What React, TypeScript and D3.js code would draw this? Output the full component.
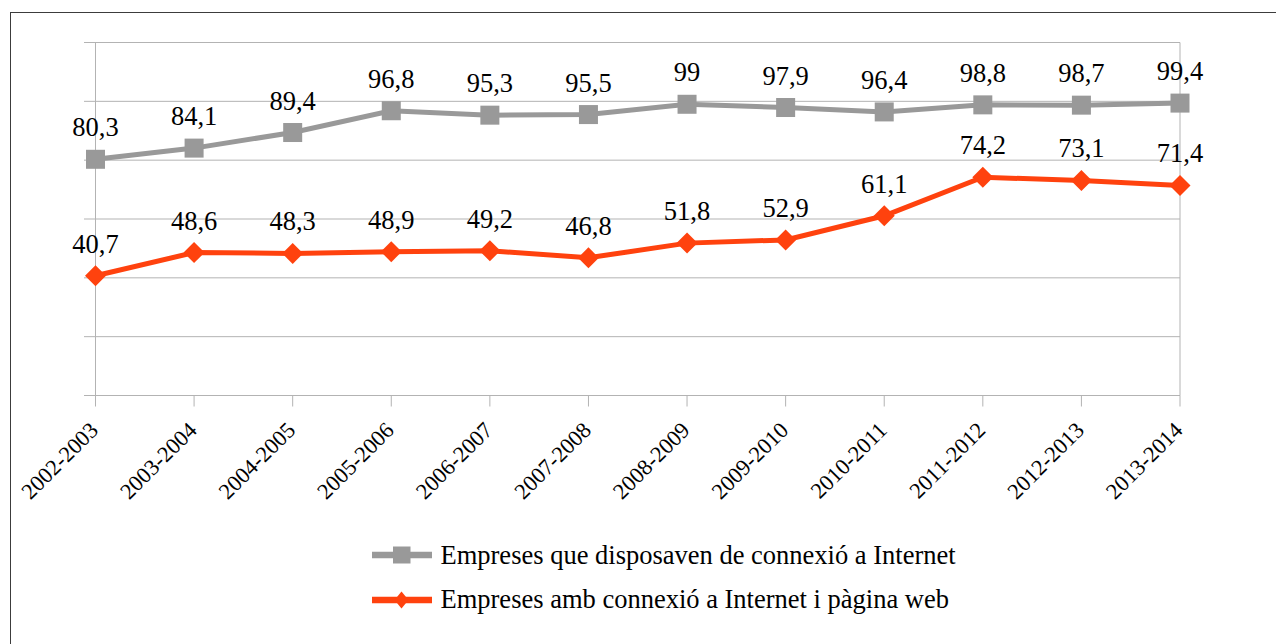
import React from "react";
import * as d3 from "d3";

const categories = ["2002-2003","2003-2004","2004-2005","2005-2006","2006-2007","2007-2008","2008-2009","2009-2010","2010-2011","2011-2012","2012-2013","2013-2014"];
const seriesInternet = [80.3, 84.1, 89.4, 96.8, 95.3, 95.5, 99, 97.9, 96.4, 98.8, 98.7, 99.4];
const seriesWeb = [40.7, 48.6, 48.3, 48.9, 49.2, 46.8, 51.8, 52.9, 61.1, 74.2, 73.1, 71.4];
const yTicks = [0, 20, 40, 60, 80, 100, 120];
const legendLabels = ["Empreses que disposaven de connexió a Internet", "Empreses amb connexió a Internet i pàgina web"];

const W = 1276, H = 644;
const GRAY = "#999999", ORANGE = "#ff420e", GRID = "#b3b3b3";
const TS = { fontFamily: "Liberation Serif" };

export default function App() {
  const x = d3.scalePoint<string>().domain(categories).range([95.5, 1180]);
  const y = d3.scaleLinear().domain([0, 120]).range([395.5, 42.5]);
  const line = d3.line<number>().x((_, i) => x(categories[i])!).y(d => y(d));
  const fmt = (v: number) => String(v).replace(".", ",");
  const diamond = (cx: number, cy: number, rx: number, ry: number) => `M${cx},${cy - ry}L${cx + rx},${cy}L${cx},${cy + ry}L${cx - rx},${cy}Z`;

  return (
    <svg width={W} height={H} style={{ position: "absolute", left: 0, top: 0, background: "#fff" }}>
      <rect x={10.5} y={12.5} width={1400} height={800} fill="#fff" stroke="#3c3c3c" strokeWidth={1} />
      {yTicks.map(t => (
        <line key={t} x1={84} x2={1180} y1={y(t)} y2={y(t)} stroke={GRID} strokeWidth={1} />
      ))}
      <line x1={95.5} x2={95.5} y1={y(120)} y2={y(0)} stroke={GRID} />
      <line x1={1180} x2={1180} y1={y(120)} y2={y(0)} stroke={GRID} />
      {categories.map(c => (
        <line key={c} x1={x(c)} x2={x(c)} y1={y(0)} y2={y(0) + 11} stroke={GRID} />
      ))}
      {categories.map(c => (
        <text key={c} style={TS} transform={`translate(${x(c)! + 4},${y(0) + 36}) rotate(-45)`} textAnchor="end" fontSize={22.5} fill="#000">{c}</text>
      ))}
      <path d={line(seriesInternet)!} fill="none" stroke={GRAY} strokeWidth={5} />
      {seriesInternet.map((v, i) => (
        <rect key={i} x={x(categories[i])! - 9.5} y={y(v) - 9.5} width={19} height={19} fill={GRAY} />
      ))}
      <path d={line(seriesWeb)!} fill="none" stroke={ORANGE} strokeWidth={5} />
      {seriesWeb.map((v, i) => (
        <path key={i} d={diamond(x(categories[i])!, y(v), 10.5, 10.5)} fill={ORANGE} />
      ))}
      {seriesInternet.map((v, i) => (
        <text key={i} style={TS} x={x(categories[i])} y={y(v) - 23} textAnchor="middle" fontSize={26.5} fill="#000">{fmt(v)}</text>
      ))}
      {seriesWeb.map((v, i) => (
        <text key={i} style={TS} x={x(categories[i])} y={y(v) - 23} textAnchor="middle" fontSize={26.5} fill="#000">{fmt(v)}</text>
      ))}
      <g>
        <line x1={372} x2={432} y1={555} y2={555} stroke={GRAY} strokeWidth={6.5} />
        <rect x={393} y={546.5} width={17.5} height={17} fill={GRAY} />
        <text style={TS} x={440.5} y={563.5} fontSize={26.5} fill="#000">{legendLabels[0]}</text>
        <line x1={372} x2={432} y1={600} y2={600} stroke={ORANGE} strokeWidth={6.5} />
        <path d={diamond(401.5, 600, 7, 8.5)} fill={ORANGE} />
        <text style={TS} x={440.5} y={607.5} fontSize={26.5} fill="#000">{legendLabels[1]}</text>
      </g>
    </svg>
  );
}
